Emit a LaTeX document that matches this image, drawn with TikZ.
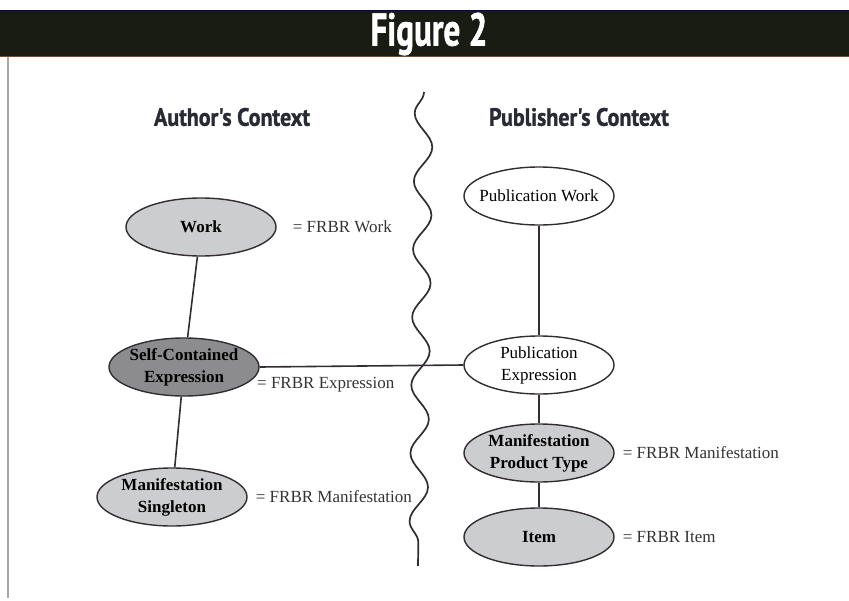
\documentclass[tikz,border=0pt]{standalone}
\usepackage{fontspec}
\setmainfont{Liberation Serif}
\newfontfamily\headfont{PT Sans}[BoldFeatures={FakeBold=1.3}]
\usetikzlibrary{shapes.geometric, decorations.pathmorphing, positioning}

\definecolor{bandcol}{RGB}{24,28,18}
\definecolor{entlight}{RGB}{204,205,207}
\definecolor{entdark}{RGB}{140,140,142}
\definecolor{edgecol}{RGB}{50,45,50}
\definecolor{headcol}{RGB}{40,42,52}

\begin{document}
\begin{tikzpicture}[
		x=1pt, y=-1pt,
		ent/.style={
			ellipse,
			draw=edgecol,
			line width=1.4pt,
			minimum width=150pt,
			minimum height=58pt,
			inner xsep=-4pt,
			inner ysep=0pt,
			align=center,
			font=\fontsize{17}{22}\selectfont\bfseries
		},
		pub/.style={
			ent,
			fill=white,
			inner xsep=-12pt,
			font=\fontsize{17}{22}\selectfont
		},
		eqlabel/.style={
			font=\fontsize{17}{20}\selectfont,
			text=black!80,
			inner sep=0pt
		},
		head/.style={
			font=\headfont\bfseries\fontsize{25}{28}\selectfont,
			text=headcol
		},
		link/.style={
			line width=1.6pt,
			draw=edgecol
		}
		]
		\useasboundingbox (0,0) rectangle (849,600);
		
		% Title band and frame
		\fill[bandcol] (0,10) rectangle (849,57);
		\draw[blue!40!black, line width=1pt] (0,10.5) -- (849,10.5);
		\draw[brown!60!black, line width=1pt] (0,56.5) -- (849,56.5);
		\draw[gray!70, line width=1.5pt] (8,57) -- (8,598);
		\node[text=white, font=\headfont\bfseries\fontsize{46}{46}\selectfont] (title) at (429,34) {\scalebox{0.72}[1]{Figure 2}};
		
		% Context headings
		\node[head] (authhead) at (232,117) {\scalebox{0.88}[1]{Author's Context}};
		\node[head] (pubhead) at (579,117) {\scalebox{0.88}[1]{Publisher's Context}};
		
		% Divider
		\coordinate (divtop) at (424,92);
		\coordinate (divbot) at (418,566);
		\draw[line width=1.7pt, draw=edgecol, decorate,
			decoration={snake, mirror, amplitude=9pt, segment length=68pt}] (divtop) -- (divbot);
		
		% Author's side
		\node[ent, fill=entlight] (work) at (201,227) {Work};
		\node[ent, fill=entdark] (sce) at (184,367) {Self-Contained\\Expression};
		\node[ent, fill=entlight] (msing) at (172,497) {Manifestation\\Singleton};
		
		% Publisher's side
		\node[pub] (pwork) at (539,196) {Publication Work};
		\node[pub] (pexpr) at (539,365) {Publication\\Expression};
		\node[ent, fill=entlight] (mpt) at (539,453) {Manifestation\\Product Type};
		\node[ent, fill=entlight] (item) at (539,537) {Item};
		
		% FRBR equivalents
		\node[eqlabel, anchor=west, right=16pt of work] (workeq) {= FRBR Work};
		\node[eqlabel, anchor=west] (sceeq) at (257,385) {= FRBR Expression};
		\node[eqlabel, anchor=west, right=8pt of msing] (msingeq) {= FRBR Manifestation};
		\node[eqlabel, anchor=west, right=8pt of mpt] (mpteq) {= FRBR Manifestation};
		\node[eqlabel, anchor=west, right=8pt of item] (itemeq) {= FRBR Item};
		
		% Connections
		\draw[link] (work) -- (sce);
		\draw[link] (sce) -- (msing);
		\draw[link] (sce.east) -- (pexpr.west);
		\draw[link] (pwork) -- (pexpr);
		\draw[link] (pexpr) -- (mpt);
		\draw[link] (mpt) -- (item);
		
	\end{tikzpicture}
\end{document}
